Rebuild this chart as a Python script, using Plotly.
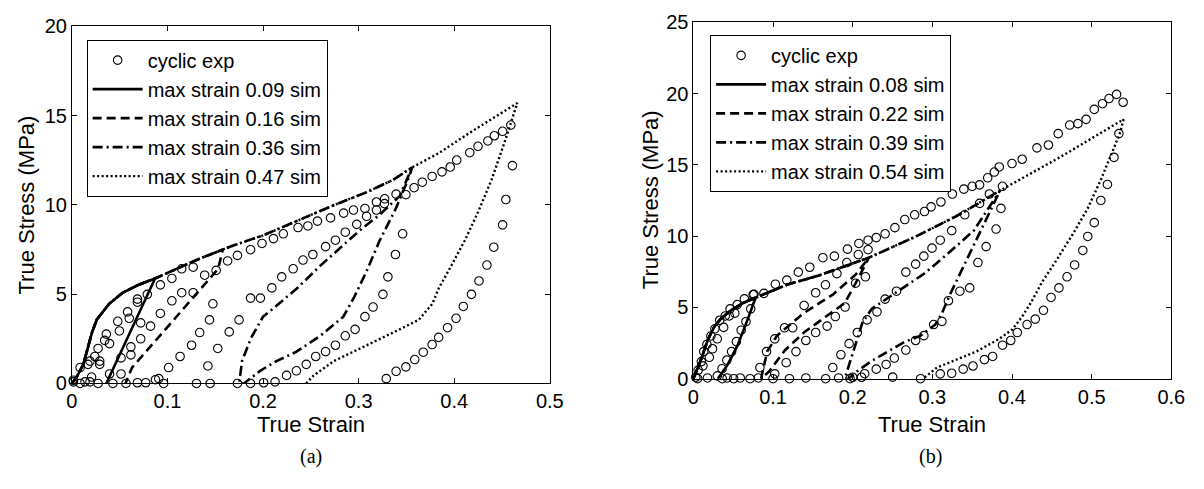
import plotly.graph_objects as go

# ---------------- Panel (a) ----------------
# experimental cyclic data (true strain, true stress MPa)
exp_a_x = [0.0017, 0.0086, 0.0137, 0.0189, 0.0274, 0.0206, 0.0086, 0.0189, 0.024, 0.0291, 0.0291, 0.0274,
           0.0343, 0.036, 0.0394, 0.048, 0.0497, 0.0583, 0.06, 0.0686, 0.0686, 0.0789, 0.072, 0.0617, 0.0617,
           0.0514, 0.0514, 0.0394, 0.0429, 0.0566, 0.0686, 0.0772, 0.0874, 0.096, 0.0014, 0.0168,
           0.072, 0.0823, 0.0926, 0.0926, 0.1046, 0.1046, 0.1149, 0.1149, 0.1269, 0.1269, 0.1389, 0.1509,
           0.1475, 0.144, 0.1337, 0.1252, 0.1132, 0.1012, 0.0909,
           0.1526, 0.1423, 0.1303, 0.1446, 0.1629, 0.1732, 0.1869, 0.1989, 0.2109, 0.2212, 0.2366, 0.2469,
           0.1646, 0.1749, 0.1869, 0.1972, 0.2092, 0.2195, 0.2315, 0.2418, 0.2521, 0.1732, 0.1869, 0.2006,
           0.2126, 0.2246, 0.2349, 0.2452,
           0.2551, 0.2654, 0.2757, 0.286, 0.2963, 0.3066, 0.3151, 0.3254, 0.3306, 0.3385, 0.346,
           0.2569, 0.2706, 0.2843, 0.2946, 0.3066, 0.3186, 0.3272, 0.3392, 0.3494, 0.358, 0.3666, 0.3769,
           0.3872, 0.3958, 0.4026, 0.4163, 0.4249, 0.4352, 0.442, 0.4506, 0.4592,
           0.2654, 0.2757, 0.286, 0.298, 0.3083, 0.3186, 0.327,
           0.4609, 0.454, 0.4506, 0.4414, 0.4342, 0.4259, 0.418, 0.4095, 0.4019, 0.393, 0.3837, 0.3769,
           0.3676, 0.3587, 0.3494, 0.3392, 0.3289]
exp_a_y = [0.09, 0.0, 0.09, 0.09, 0.0, 0.36, 0.89, 1.25, 1.51, 1.25, 1.07, 1.96,
           2.41, 2.76, 2.23, 3.48, 2.94, 4.01, 3.65, 4.55, 4.72, 4.99, 3.39, 2.05, 1.6,
           1.43, 0.53, 0.53, 0.0, 0.0, 0.04, 0.04, 0.21, 0.0, 0.18, 1.07,
           2.5, 3.21, 3.92, 5.52, 5.88, 4.63, 5.08, 6.42, 6.51, 5.08, 6.06, 6.33,
           4.46, 3.56, 2.85, 2.14, 1.51, 0.89, 0.27,
           1.96, 0.98, 0.0, 0.0, 6.86, 7.17, 7.49, 7.84, 8.11, 8.38, 8.73, 8.82,
           2.89, 3.56, 4.78, 4.78, 5.35, 5.97, 6.42, 6.91, 7.22, 0.0, 0.0, 0.04,
           0.09, 0.45, 0.71, 1.07,
           1.51, 1.78, 2.14, 2.67, 3.03, 3.74, 4.28, 4.99, 5.97, 7.22, 8.38,
           9.09, 9.27, 9.54, 9.71, 9.8, 10.16, 10.34, 10.6, 10.57, 10.96, 11.27, 11.59,
           11.85, 12.12, 12.51, 12.92, 13.28, 13.58, 13.87, 14.12, 14.47,
           7.66, 8.02, 8.47, 8.91, 9.36, 9.71, 10.07,
           12.2, 10.3, 8.88, 7.63, 6.63, 5.74, 4.99, 4.31, 3.65, 3.12, 2.58, 2.18,
           1.75, 1.34, 0.93, 0.68, 0.27]

# simulated cycles
sim09_a_x = [0.0, 0.005, 0.012, 0.021, 0.026, 0.039, 0.053, 0.070, 0.087, 0.062, 0.036]
sim09_a_y = [0.0, 0.36, 1.07, 2.85, 3.57, 4.46, 5.08, 5.53, 5.88, 3.0, 0.0]

sim16_a_x = [0.0, 0.005, 0.012, 0.021, 0.026, 0.039, 0.053, 0.070, 0.087, 0.108, 0.132, 0.158,
             0.153, 0.108, 0.063, 0.056]
sim16_a_y = [0.0, 0.36, 1.07, 2.85, 3.57, 4.46, 5.08, 5.53, 5.88, 6.4, 6.95, 7.5,
             6.42, 3.65, 0.89, 0.0]

sim36_a_x = [0.0, 0.005, 0.012, 0.021, 0.026, 0.039, 0.053, 0.070, 0.087, 0.108, 0.132, 0.166, 0.2,
             0.235, 0.274, 0.308, 0.336, 0.356,
             0.353, 0.339, 0.322, 0.308, 0.295, 0.284, 0.26, 0.235, 0.214, 0.197, 0.185, 0.18,
             0.175, 0.178, 0.187, 0.2, 0.214, 0.235, 0.26, 0.281, 0.301, 0.322, 0.343, 0.356]
sim36_a_y = [0.0, 0.36, 1.07, 2.85, 3.57, 4.46, 5.08, 5.53, 5.88, 6.4, 6.95, 7.67, 8.29,
             9.09, 9.98, 10.7, 11.4, 12.1,
             11.6, 9.8, 8.0, 6.24, 4.8, 3.74, 2.67, 1.78, 1.25, 0.71, 0.18, 0.0,
             0.0, 1.25, 2.5, 3.74, 4.35, 5.3, 6.6, 7.6, 8.56, 9.45, 10.5, 12.1]

sim47_a_x = [0.0, 0.005, 0.012, 0.021, 0.026, 0.039, 0.053, 0.070, 0.087, 0.108, 0.132, 0.166, 0.2,
             0.235, 0.274, 0.308, 0.336, 0.356, 0.384, 0.418, 0.445, 0.466,
             0.452, 0.439, 0.425, 0.411, 0.397, 0.384, 0.377, 0.363, 0.343, 0.322, 0.301, 0.274, 0.253, 0.245]
sim47_a_y = [0.0, 0.36, 1.07, 2.85, 3.57, 4.46, 5.08, 5.53, 5.88, 6.4, 6.95, 7.67, 8.29,
             9.09, 9.98, 10.7, 11.4, 12.1, 12.9, 14.1, 15.0, 15.7,
             13.4, 11.4, 9.6, 8.0, 6.6, 5.35, 4.45, 3.57, 3.03, 2.5, 1.96, 1.25, 0.45, 0.0]

# ---------------- Panel (b) ----------------
exp_b_x = [0.003, 0.006, 0.010, 0.013, 0.017, 0.022, 0.027, 0.033, 0.040, 0.046, 0.055, 0.064, 0.075,
           0.012, 0.020, 0.024, 0.030, 0.038, 0.045, 0.052,
           0.072, 0.066, 0.060, 0.054, 0.048, 0.042, 0.036, 0.030,
           0.0053, 0.0177, 0.0362, 0.0424, 0.0506, 0.0588, 0.0712, 0.0815, 0.1, 0.1206, 0.1412,
           0.166, 0.1823, 0.1967, 0.2111,
           0.0835, 0.0918, 0.1021, 0.1144, 0.1247, 0.139, 0.1535, 0.1658, 0.1802, 0.1926, 0.207, 0.2193,
           0.1021, 0.1165, 0.1288, 0.1412, 0.1535, 0.1679, 0.1782, 0.1905, 0.2037, 0.216,
           0.0761, 0.0885, 0.1029, 0.1173, 0.1317, 0.1461, 0.1626, 0.177, 0.1934, 0.2078, 0.2193,
           0.2296, 0.2407, 0.253, 0.2654, 0.2778, 0.2901, 0.2984, 0.3107, 0.3251, 0.3395, 0.35, 0.3593,
           0.3695, 0.3778, 0.384,
           0.4, 0.4128, 0.4313, 0.4457, 0.458, 0.4724, 0.4827, 0.493, 0.5033, 0.5136, 0.5218, 0.5313, 0.5395,
           0.388, 0.3861, 0.38, 0.3675, 0.3572, 0.3469, 0.3346, 0.3202, 0.312, 0.3016, 0.2893, 0.279,
           0.2667, 0.2523, 0.242, 0.2296, 0.215, 0.2,
           0.175, 0.1852, 0.1955, 0.2058, 0.2181, 0.2305, 0.2407, 0.255, 0.2667, 0.279, 0.2893, 0.2996,
           0.3099, 0.3243, 0.3407, 0.3593, 0.3716,
           0.2502, 0.2852,
           0.5342, 0.528, 0.5198, 0.5115, 0.5033, 0.4951, 0.4889, 0.4786, 0.4691, 0.4589, 0.449, 0.4395,
           0.4292, 0.4189, 0.4066, 0.3984, 0.3881, 0.3757, 0.3654, 0.351, 0.3387, 0.3243, 0.3099]
exp_b_y = [0.1, 0.6, 1.2, 1.9, 2.4, 3.0, 3.5, 4.1, 4.4, 4.9, 5.2, 5.6, 5.9,
           0.9, 1.5, 2.1, 2.8, 3.6, 4.4, 4.6,
           4.9, 4.0, 3.4, 2.6, 1.9, 1.3, 0.7, 0.2,
           0.0, 0.05, 0.0, 0.05, 0.0, 0.05, 0.0, 0.05, 0.0, 0.0, 0.05,
           0.0, 0.05, 0.0, 0.1,
           0.78, 1.9, 2.79, 3.57, 3.57, 5.14, 6.03, 6.59, 7.37, 8.15, 8.71, 9.05,
           0.34, 1.12, 1.9, 2.68, 3.24, 3.69, 4.36, 5.03, 6.7, 7.15,
           5.92, 5.99, 6.63, 6.92, 7.48, 7.82, 8.49, 8.6, 9.09, 9.49, 9.72,
           9.9, 10.17, 10.6, 11.17, 11.5, 11.73, 12.06, 12.4, 12.96, 13.3, 13.5, 13.6,
           14.1, 14.5, 14.86,
           15.1, 15.4, 16.2, 16.4, 17.2, 17.8, 17.9, 18.2, 18.9, 19.3, 19.66, 19.95, 19.4,
           13.5, 11.95, 10.5, 9.27, 8.15, 6.37, 6.14, 5.47, 4.02, 3.8, 3.02, 2.68,
           2.01, 1.45, 1.0, 0.67, 0.35, 0.1,
           0.78, 1.68, 2.46, 3.24, 4.13, 4.69, 5.58, 6.14, 7.48, 8.04, 8.6, 9.16,
           9.72, 10.39, 11.5, 12.3, 12.96,
           0.11, 0.0,
           17.2, 15.53, 13.63, 12.51, 10.95, 9.98, 9.0, 7.98, 7.15, 6.37, 5.7, 4.8,
           4.18, 3.8, 3.24, 2.68, 2.35, 1.56, 1.34, 0.89, 0.67, 0.38, 0.34]

sim08_b_x = [0.0, 0.0103, 0.0185, 0.0267, 0.035, 0.0473, 0.0638, 0.0782, 0.0679, 0.0556, 0.0432, 0.0309]
sim08_b_y = [0.0, 1.45, 2.79, 3.69, 4.24, 4.8, 5.36, 5.7, 4.13, 2.35, 1.0, 0.0]

sim22_b_x = [0.0, 0.0103, 0.0185, 0.0267, 0.035, 0.0473, 0.0638, 0.0782, 0.1173, 0.1584, 0.1914, 0.2202,
             0.2037, 0.19, 0.17, 0.14, 0.115, 0.095, 0.085,
             0.0926, 0.105, 0.1379, 0.175, 0.2037, 0.2202]
sim22_b_y = [0.0, 1.45, 2.79, 3.69, 4.24, 4.8, 5.36, 5.7, 6.59, 7.26, 7.93, 8.49,
             6.7, 5.3, 4.5, 3.3, 2.0, 0.5, 0.0,
             1.9, 3.02, 4.58, 5.9, 7.3, 8.49]

sim39_b_x = [0.0, 0.0103, 0.0185, 0.0267, 0.035, 0.0473, 0.0638, 0.0782, 0.1173, 0.1584, 0.1914, 0.2202,
             0.28, 0.33, 0.385,
             0.36, 0.3407, 0.3222, 0.312, 0.3037, 0.2852, 0.2646, 0.244, 0.2235, 0.205, 0.195,
             0.19, 0.2, 0.212, 0.224, 0.242, 0.2646, 0.2893, 0.3181, 0.352, 0.385]
sim39_b_y = [0.0, 1.45, 2.79, 3.69, 4.24, 4.8, 5.36, 5.7, 6.59, 7.26, 7.93, 8.49,
             10.0, 11.4, 13.2,
             10.3, 8.0, 5.92, 4.58, 3.8, 3.02, 2.57, 1.9, 1.23, 0.5, 0.0,
             0.0, 1.8, 3.9, 4.91, 5.58, 6.37, 7.35, 8.71, 10.39, 13.2]

sim54_b_x = [0.0, 0.0103, 0.0185, 0.0267, 0.035, 0.0473, 0.0638, 0.0782, 0.1173, 0.1584, 0.1914, 0.2202,
             0.28, 0.33, 0.385, 0.462, 0.54,
             0.536, 0.528, 0.5115, 0.495, 0.478, 0.4539, 0.4379, 0.4251, 0.4128, 0.4004, 0.3839, 0.355,
             0.3263, 0.3058, 0.2934, 0.288]
sim54_b_y = [0.0, 1.45, 2.79, 3.69, 4.24, 4.8, 5.36, 5.7, 6.59, 7.26, 7.93, 8.49,
             10.0, 11.4, 13.2, 15.6, 18.2,
             17.3, 16.2, 13.96, 11.95, 10.3, 8.15, 6.8, 5.47, 4.36, 3.46, 2.79, 1.9,
             1.23, 0.78, 0.22, 0.0]

labels_a = ["max strain 0.09 sim", "max strain 0.16 sim", "max strain 0.36 sim", "max strain 0.47 sim"]
labels_b = ["max strain 0.08 sim", "max strain 0.22 sim", "max strain 0.39 sim", "max strain 0.54 sim"]

x_ticks_a = [0, 0.1, 0.2, 0.3, 0.4, 0.5]
x_ticktext_a = ["0", "0.1", "0.2", "0.3", "0.4", "0.5"]
y_ticks_a = [0, 5, 10, 15, 20]
x_ticks_b = [0, 0.1, 0.2, 0.3, 0.4, 0.5, 0.6]
x_ticktext_b = ["0", "0.1", "0.2", "0.3", "0.4", "0.5", "0.6"]
y_ticks_b = [0, 5, 10, 15, 20, 25]

W, H = 1204, 489
FONT = "Liberation Sans, Arial, Helvetica, sans-serif"

line_styles = [
    dict(color="black", width=2.6, dash="solid"),
    dict(color="black", width=2.6, dash="9px,5px"),
    dict(color="black", width=2.6, dash="10px,4px,2px,4px"),
    dict(color="black", width=2.4, dash="2px,2.5px"),
]

fig = go.Figure()


def add_panel(xa, ya, legend, ex, ey, sims, labels):
    fig.add_trace(go.Scatter(
        x=ex, y=ey, mode="markers", name="cyclic exp", xaxis=xa, yaxis=ya, legend=legend,
        marker=dict(symbol="circle-open", size=8.5, color="black", line=dict(width=1.1, color="black")),
        cliponaxis=False))
    for (sx, sy), lab, st in zip(sims, labels, line_styles):
        fig.add_trace(go.Scatter(
            x=sx, y=sy, mode="lines", name=lab, xaxis=xa, yaxis=ya, legend=legend,
            line=st))


add_panel("x", "y", "legend", exp_a_x, exp_a_y,
          [(sim09_a_x, sim09_a_y), (sim16_a_x, sim16_a_y), (sim36_a_x, sim36_a_y), (sim47_a_x, sim47_a_y)],
          labels_a)
add_panel("x2", "y2", "legend2", exp_b_x, exp_b_y,
          [(sim08_b_x, sim08_b_y), (sim22_b_x, sim22_b_y), (sim39_b_x, sim39_b_y), (sim54_b_x, sim54_b_y)],
          labels_b)


def px_x(p):
    return p / W


def px_y(p):
    return 1 - p / H


axis_common = dict(showline=True, linecolor="black", linewidth=1, mirror="ticks", ticks="inside",
                   ticklen=5, tickcolor="black", showgrid=False, zeroline=False,
                   tickfont=dict(family=FONT, size=20, color="black"))

legend_common = dict(bgcolor="white", bordercolor="black", borderwidth=1,
                     font=dict(family=FONT, size=20, color="black"),
                     xanchor="left", yanchor="top", itemwidth=50, tracegroupgap=0)

fig.update_layout(
    width=W, height=H,
    margin=dict(l=0, r=0, t=0, b=0),
    paper_bgcolor="white", plot_bgcolor="white",
    showlegend=True,
    xaxis=dict(domain=[px_x(67), px_x(553)], range=[0, 0.5], tickvals=x_ticks_a, ticktext=x_ticktext_a,
               anchor="y", **axis_common),
    yaxis=dict(domain=[px_y(390), px_y(16)], range=[0, 20], tickvals=y_ticks_a, anchor="x", **axis_common),
    xaxis2=dict(domain=[px_x(699), px_x(1185)], range=[0, 0.6], tickvals=x_ticks_b, ticktext=x_ticktext_b,
                anchor="y2", **axis_common),
    yaxis2=dict(domain=[px_y(385), px_y(12)], range=[0, 25], tickvals=y_ticks_b, anchor="x2", **axis_common),
    legend=dict(x=px_x(82), y=px_y(30), **legend_common),
    legend2=dict(x=px_x(716), y=px_y(25), **legend_common),
)

title_font = dict(family=FONT, size=22, color="black")
caption_font = dict(family="Liberation Serif, DejaVu Serif, serif", size=20, color="black")
annotations = [
    dict(text="True Strain", x=px_x(310), y=px_y(433), font=title_font),
    dict(text="True Strain", x=px_x(942), y=px_y(433), font=title_font),
    dict(text="True Stress (MPa)", x=px_x(21), y=px_y(203), textangle=-90, font=title_font),
    dict(text="True Stress (MPa)", x=px_x(655), y=px_y(198), textangle=-90, font=title_font),
    dict(text="(a)", x=px_x(310), y=px_y(466), font=caption_font),
    dict(text="(b)", x=px_x(940), y=px_y(466), font=caption_font),
]
for a in annotations:
    fig.add_annotation(xref="paper", yref="paper", showarrow=False, xanchor="center", yanchor="middle", **a)

fig.write_html("out.html")
